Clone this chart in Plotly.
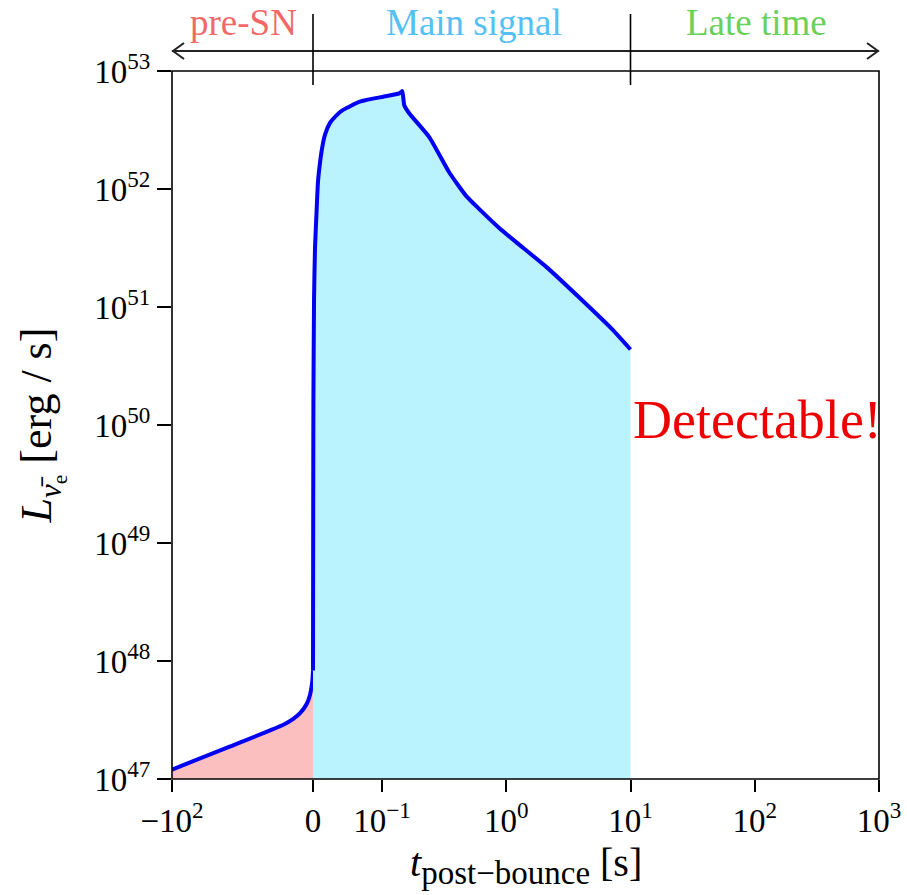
import numpy as np
import plotly.graph_objects as go

# ---------------- data ----------------
# pre-supernova phase: time to bounce [s] and log10 luminosity [erg/s]
t_pre = [-100, -60, -21, -14, -9, -4.3, -2.2, -0.4, 0.0]
logL_pre = [47.08, 47.27, 47.46, 47.51, 47.56, 47.64, 47.71, 47.84, 47.92]

# main signal: post-bounce time [s] and log10 luminosity [erg/s]
t_main = [0.0, 0.0001, 0.0003, 0.0006, 0.0015, 0.0029, 0.0051, 0.0072, 0.0101,
          0.013, 0.0174, 0.0246, 0.0333, 0.0435, 0.068, 0.1005, 0.1377, 0.1456,
          0.151, 0.166, 0.24, 0.348, 0.477, 0.607, 0.878, 1.20, 2.10,
          3.87, 7.13, 10.0]
logL_main = [47.92, 48.3, 49.2, 50.2, 51.06, 51.5, 51.80, 52.06, 52.22,
             52.34, 52.46, 52.56, 52.62, 52.67, 52.74, 52.78, 52.81, 52.83,
             52.71, 52.64, 52.44, 52.14, 51.94, 51.83, 51.67, 51.55, 51.34,
             51.08, 50.81, 50.64]

y_tick_exp = [47, 48, 49, 50, 51, 52, 53]
x3_tick_vals = [0.1, 1, 10, 100, 1000]
x3_tick_text = ["10<sup>−1</sup>", "10<sup>0</sup>", "10<sup>1</sup>",
                "10<sup>2</sup>", "10<sup>3</sup>"]
phase_labels = ["pre-SN", "Main signal", "Late time"]

# ---------------- styling / layout constants ----------------
W, H = 907, 895
PL, PR, PT, PB = 172, 879, 71, 779
PW, PH = PR - PL, PB - PT
FONT = "Liberation Serif"
BLUE = "#0000F2"
PINK = "#FCBFBF"
CYAN = "#BAF2FE"
L_BASE = 1e47

def px2paper_x(px):
    return (px - PL) / PW

def px2paper_y(py):
    return (PB - py) / PH

# x-axis pieces: linear pre-SN, linear 0..0.1, log 0.1..1000
x1_range = [-100, 0]
x2_range = [-0.003, 0.1]
x3_range = [-1, 3]
x1_dom = [0.0, px2paper_x(313)]
x2_dom = [px2paper_x(313 - 0.003 / 0.1 * 69), px2paper_x(382)]
x3_dom = [px2paper_x(382), 1.0]

L_pre = [10.0 ** v for v in logL_pre]
L_main = [10.0 ** v for v in logL_main]

curve_line = dict(color=BLUE, width=4, shape="spline", smoothing=0.5)

fig = go.Figure()

# pre-SN (x1)
fig.add_trace(go.Scatter(x=t_pre, y=[L_BASE] * len(t_pre), xaxis="x", yaxis="y",
                         mode="lines", line=dict(width=0), hoverinfo="skip"))
fig.add_trace(go.Scatter(x=t_pre, y=L_pre, xaxis="x", yaxis="y", mode="lines",
                         fill="tonexty", fillcolor=PINK, line=curve_line))

# main signal, linear part (x2)
fig.add_trace(go.Scatter(x=t_main, y=[L_BASE] * len(t_main), xaxis="x2", yaxis="y",
                         mode="lines", line=dict(width=0), hoverinfo="skip"))
fig.add_trace(go.Scatter(x=t_main, y=L_main, xaxis="x2", yaxis="y", mode="lines",
                         fill="tonexty", fillcolor=CYAN, line=curve_line))

# main signal, log part (x3)
t_log = [t for t in t_main if t > 0]
L_log = [L for t, L in zip(t_main, L_main) if t > 0]
fig.add_trace(go.Scatter(x=t_log, y=[L_BASE] * len(t_log), xaxis="x3", yaxis="y",
                         mode="lines", line=dict(width=0), hoverinfo="skip"))
fig.add_trace(go.Scatter(x=t_log, y=L_log, xaxis="x3", yaxis="y", mode="lines",
                         fill="tonexty", fillcolor=CYAN, line=curve_line))

tickfont = dict(family=FONT, size=33, color="black")
common_x = dict(showgrid=False, zeroline=False, showline=False, ticks="outside",
                ticklen=12, tickwidth=1.5, tickcolor="black", tickfont=tickfont,
                anchor="y", tickmode="array")

fig.update_layout(
    width=W, height=H,
    margin=dict(l=PL, r=W - PR, t=PT, b=H - PB),
    paper_bgcolor="white", plot_bgcolor="rgba(0,0,0,0)",
    showlegend=False, template="none",
    xaxis=dict(domain=x1_dom, range=x1_range, type="linear",
               tickvals=[-100], ticktext=["−10<sup>2</sup>"], **common_x),
    xaxis2=dict(domain=x2_dom, range=x2_range, type="linear",
                tickvals=[0], ticktext=["0"], **common_x),
    xaxis3=dict(domain=x3_dom, range=x3_range, type="log",
                tickvals=x3_tick_vals, ticktext=x3_tick_text, **common_x),
    yaxis=dict(type="log", range=[47, 53], anchor="x", showgrid=False,
               zeroline=False, showline=False, ticks="outside", ticklen=14,
               tickwidth=1.5, tickcolor="black", tickfont=tickfont,
               tickmode="array", tickvals=[10.0 ** e for e in y_tick_exp],
               ticktext=[f"10<sup>{e}</sup>" for e in y_tick_exp],
               title=dict(text="<i>L</i><sub><i>ν̄</i><sub>e</sub></sub> [erg / s]",
                          font=dict(family=FONT, size=44, color="black"),
                          standoff=28)),
)

# frame
fig.add_shape(type="rect", xref="paper", yref="paper", x0=0, x1=1, y0=0, y1=1,
              line=dict(color="black", width=1.6), layer="above")

# x-axis title
fig.add_annotation(xref="paper", yref="paper", x=0.5, y=px2paper_y(866),
                   text="<i>t</i><sub><span style='font-size:33px'>post−bounce</span></sub> [s]",
                   showarrow=False,
                   font=dict(family=FONT, size=40, color="black"),
                   xanchor="center", yanchor="middle")

# phase arrows on top
ya = px2paper_y(51)
x0p = px2paper_x(313)
x10p = px2paper_x(382 + 2 * 124.25)
arrow_line = dict(color="#222222", width=2)
fig.add_shape(type="line", xref="paper", yref="paper", x0=0, x1=x0p, y0=ya, y1=ya,
              line=arrow_line)
fig.add_shape(type="line", xref="paper", yref="paper", x0=x0p, x1=x10p, y0=ya, y1=ya,
              line=arrow_line)
fig.add_shape(type="line", xref="paper", yref="paper", x0=x10p, x1=1, y0=ya, y1=ya,
              line=arrow_line)
for xp in (x0p, x10p):
    fig.add_shape(type="line", xref="paper", yref="paper", x0=xp, x1=xp,
                  y0=px2paper_y(14), y1=px2paper_y(85), line=dict(color="black", width=1.6))
# chevron heads
fig.add_shape(type="path", xref="paper", yref="paper", xsizemode="pixel",
              ysizemode="pixel", xanchor=0, yanchor=ya,
              path="M 12,8 L 1,0 L 12,-8", line=arrow_line)
fig.add_shape(type="path", xref="paper", yref="paper", xsizemode="pixel",
              ysizemode="pixel", xanchor=1, yanchor=ya,
              path="M -12,8 L -1,0 L -12,-8", line=arrow_line)

label_colors = ["#F26868", "#55C0F4", "#6BCF5B"]
label_x = [px2paper_x(243), px2paper_x(474), px2paper_x(756)]
for txt, col, xp in zip(phase_labels, label_colors, label_x):
    fig.add_annotation(xref="paper", yref="paper", x=xp, y=px2paper_y(23),
                       text=txt, showarrow=False, xanchor="center", yanchor="middle",
                       font=dict(family=FONT, size=37, color=col))

fig.add_annotation(xref="x3", yref="y", x=1, y=50.04, text="Detectable!",
                   showarrow=False, xanchor="left", yanchor="middle",
                   font=dict(family=FONT, size=54, color="#EE0000"))

fig.write_html("out.html")
